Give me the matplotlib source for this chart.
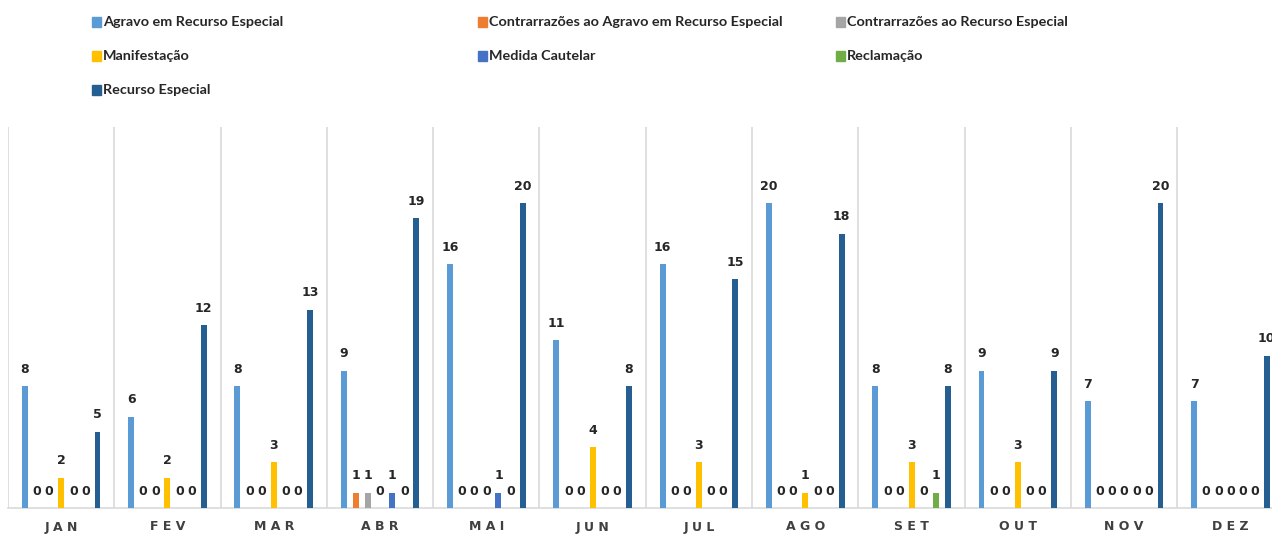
import matplotlib
matplotlib.use("Agg")
import matplotlib.pyplot as plt
from matplotlib.patches import Rectangle
import numpy as np

months = ["JAN", "FEV", "MAR", "ABR", "MAI", "JUN", "JUL", "AGO", "SET", "OUT", "NOV", "DEZ"]
series_names = [
    "Agravo em Recurso Especial",
    "Contrarrazões ao Agravo em Recurso Especial",
    "Contrarrazões ao Recurso Especial",
    "Manifestação",
    "Medida Cautelar",
    "Reclamação",
    "Recurso Especial",
]
agravo = [8, 6, 8, 9, 16, 11, 16, 20, 8, 9, 7, 7]
contra_agravo = [0, 0, 0, 1, 0, 0, 0, 0, 0, 0, 0, 0]
contra_re = [0, 0, 0, 1, 0, 0, 0, 0, 0, 0, 0, 0]
manifestacao = [2, 2, 3, 0, 0, 4, 3, 1, 3, 3, 0, 0]
medida = [0, 0, 0, 1, 1, 0, 0, 0, 0, 0, 0, 0]
reclamacao = [0, 0, 0, 0, 0, 0, 0, 0, 1, 0, 0, 0]
recurso = [5, 12, 13, 19, 20, 8, 15, 18, 8, 9, 20, 10]
colors = ["#5B9BD5", "#ED7D31", "#A5A5A5", "#FFC000", "#4472C4", "#70AD47", "#255E91"]

all_series = [agravo, contra_agravo, contra_re, manifestacao, medida, reclamacao, recurso]

W, H = 1272, 544
fig = plt.figure(figsize=(W / 100, H / 100), dpi=100)
fig.patch.set_facecolor("white")

ax_left, ax_right = 8, 8 + 12 * 106.3
ax_bottom, ax_top = 508, 127
ax = fig.add_axes([ax_left / W, (H - ax_bottom) / H, (ax_right - ax_left) / W, (ax_bottom - ax_top) / H])
ax.set_xlim(0, 12)
ax.set_ylim(0, 25)

x = np.arange(len(months)) + 0.5
slot = 0.114
bw = 0.056
lab_font = ["DejaVu Sans"]
for i, (vals, c) in enumerate(zip(all_series, colors)):
    xs = x + (i - 3) * slot
    ax.bar(xs, vals, width=bw, color=c, zorder=3)
    for xi, v in zip(xs, vals):
        ax.annotate(str(v), (xi, v), xytext=(0, 7.5), textcoords="offset points",
                    ha="center", va="bottom", fontsize=9, fontweight="bold",
                    color="#262626", family=lab_font, clip_on=False)

for k in range(13):
    ax.axvline(k, color="#D9D9D9", lw=1.2, zorder=1)

for s in ["top", "right", "left"]:
    ax.spines[s].set_visible(False)
ax.spines["bottom"].set_color("#D9D9D9")
ax.spines["bottom"].set_linewidth(1.2)
ax.set_yticks([])
ax.set_xticks(x)
ax.set_xticklabels([" ".join(m) for m in months], fontsize=9, fontweight="bold",
                   family=lab_font, color="#404040")
ax.tick_params(axis="x", length=0, pad=9)

col_x = [92, 478, 836]
row_y = [22, 56, 90]
positions = [(0, 0), (1, 0), (2, 0), (0, 1), (1, 1), (2, 1), (0, 2)]
for name, c, (ci, ri) in zip(series_names, colors, positions):
    px, py = col_x[ci], row_y[ri]
    sq = 9
    fig.patches.append(Rectangle((px / W, (H - py - sq / 2) / H), sq / W, sq / H,
                                 transform=fig.transFigure, color=c, figure=fig))
    fig.text((px + 11) / W, (H - py) / H, name, ha="left", va="center",
             fontsize=10.4, fontweight="bold", family=["Lato", "DejaVu Sans"],
             color="#262626")

fig.savefig("out.png", dpi=100)
